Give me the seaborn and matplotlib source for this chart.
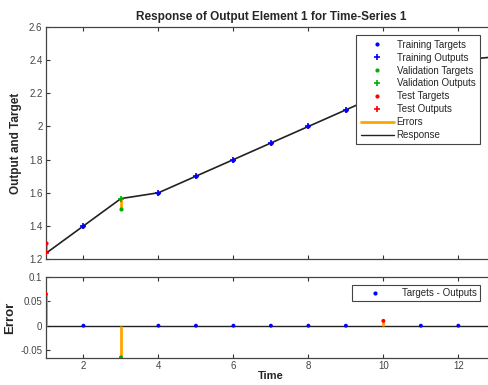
"""
Response plot of output element 1 (time-series), MATLAB ntstool style.
"""
import numpy as np
import pandas as pd
import seaborn as sns
import matplotlib.pyplot as plt
from matplotlib.lines import Line2D

sns.set_style('ticks')
plt.rcParams['font.family'] = ['Liberation Sans', 'DejaVu Sans']

# values
time = [1, 2, 3, 4, 5, 6, 7, 8, 9, 10, 11, 12, 13]
targets = [1.30, 1.40, 1.50, 1.60, 1.70, 1.80, 1.90, 2.00, 2.10, 2.21, 2.30, 2.40, 2.47]
outputs = [1.235, 1.40, 1.565, 1.60, 1.70, 1.80, 1.90, 2.00, 2.10, 2.20, 2.30, 2.40, 2.42]
subset = ['Test', 'Training', 'Validation', 'Training', 'Training', 'Training', 'Training',
          'Training', 'Training', 'Test', 'Training', 'Training', 'Validation']

COLORS = {'Training': '#0000ff', 'Validation': '#00b000', 'Test': '#ff0000'}
ORANGE = '#ffa500'

data = pd.DataFrame({'time': time, 'target': targets, 'output': outputs, 'subset': subset})
data['error'] = data['target'] - data['output']

fig = plt.figure(figsize=(4.89, 3.85), dpi=100)
ax1 = fig.add_axes([0.094, 0.327, 0.92, 0.603])
ax2 = fig.add_axes([0.094, 0.0705, 0.92, 0.21])

# top panel
ax1.vlines(data['time'], data['output'], data['target'], color=ORANGE, lw=2, zorder=2)
sns.lineplot(data=data, x='time', y='output', color='#222222', lw=1.2, ax=ax1, zorder=3)
for name in ['Training', 'Validation', 'Test']:
    sub = data[data['subset'] == name]
    ax1.plot(sub['time'], sub['target'], '.', color=COLORS[name], ms=4, zorder=4)
    ax1.plot(sub['time'], sub['output'], '+', color=COLORS[name], ms=5, mew=1.2, zorder=4)

handles = []
for name in ['Training', 'Validation', 'Test']:
    handles.append(Line2D([], [], ls='', marker='.', ms=4, color=COLORS[name], label=name + ' Targets'))
    handles.append(Line2D([], [], ls='', marker='+', ms=5, mew=1.2, color=COLORS[name], label=name + ' Outputs'))
handles.append(Line2D([], [], color=ORANGE, lw=2, label='Errors'))
handles.append(Line2D([], [], color='#222222', lw=1, label='Response'))
leg = ax1.legend(handles=handles, loc='upper right', bbox_to_anchor=(0.975, 0.985), fontsize=7,
                 frameon=True, fancybox=False, framealpha=1, edgecolor='#444444', handlelength=3.4,
                 labelspacing=0.3, borderpad=0.45, handletextpad=0.3)
leg.get_frame().set_linewidth(0.8)

ax1.set_xlim(1, 13)
ax1.set_ylim(1.2, 2.6)
ax1.set_xticks([2, 4, 6, 8, 10, 12])
ax1.set_xticklabels([])
ax1.set_yticks([1.2, 1.4, 1.6, 1.8, 2.0, 2.2, 2.4, 2.6])
ax1.set_yticklabels(['1.2', '1.4', '1.6', '1.8', '2', '2.2', '2.4', '2.6'])
ax1.set_xlabel('')
ax1.set_ylabel('Output and Target', fontsize=8.5, fontweight='bold', labelpad=5)
ax1.set_title('Response of Output Element 1 for Time-Series 1', fontsize=8.5, fontweight='bold', pad=5)

# bottom panel
ax2.axhline(0, color='#222222', lw=1, zorder=1)
ax2.vlines(data['time'], 0, data['error'], color=ORANGE, lw=2, zorder=2)
sns.scatterplot(data=data, x='time', y='error', hue='subset', palette=COLORS, s=8,
                linewidth=0, legend=False, ax=ax2, zorder=3)
leg2 = ax2.legend(handles=[Line2D([], [], ls='', marker='.', ms=4, color=COLORS['Training'],
                                  label='Targets - Outputs')],
                  loc='upper right', bbox_to_anchor=(0.975, 0.96), fontsize=7, frameon=True,
                  fancybox=False, framealpha=1, edgecolor='#444444', handlelength=4, borderpad=0.3)
leg2.get_frame().set_linewidth(0.8)

ax2.set_xlim(1, 13)
ax2.set_ylim(-0.066, 0.1)
ax2.set_xticks([2, 4, 6, 8, 10, 12])
ax2.set_yticks([-0.05, 0, 0.05, 0.1])
ax2.set_yticklabels(['-0.05', '0', '0.05', '0.1'])
ax2.set_xlabel('Time', fontsize=8, fontweight='bold', labelpad=0)
ax2.set_ylabel('Error', fontsize=9.5, fontweight='bold', labelpad=3)

for ax in (ax1, ax2):
    ax.tick_params(direction='in', length=3, width=0.8, labelsize=7, colors='#333333',
                   top=True, right=True, labelcolor='#444444', pad=2.5)
    for sp in ax.spines.values():
        sp.set_visible(True)
        sp.set_color('#444444')
        sp.set_linewidth(0.9)

fig.savefig('out.png', dpi=100)
